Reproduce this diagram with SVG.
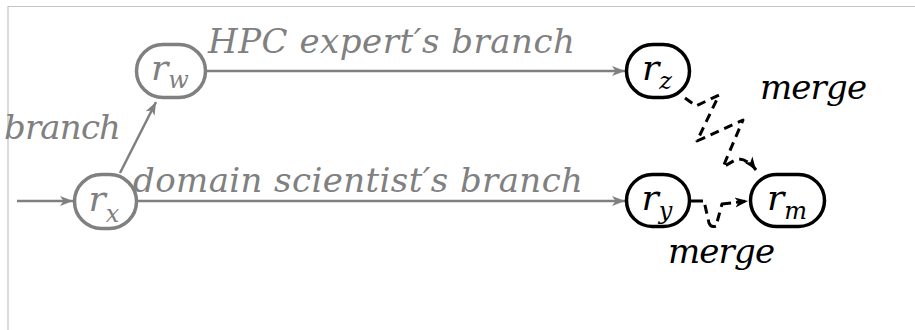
<svg xmlns="http://www.w3.org/2000/svg" width="915" height="330" viewBox="0 0 915 330">
<defs>
<style>
.frame{fill:none;stroke:#c4c4c4;stroke-width:1.2}
.ng rect{fill:#fff;stroke:#808080;stroke-width:3.5}
.nb rect{fill:#fff;stroke:#000;stroke-width:3.5}
text{font-family:'DejaVu Serif',serif;font-style:italic;font-size:34px}
.nl{font-size:36px}
.sub{font-size:24px}
.g{fill:#808080}
.k{fill:#000}
.eg{fill:none;stroke:#808080;stroke-width:2.5}
.eb{fill:none;stroke:#000;stroke-width:3;stroke-dasharray:9 6;stroke-linejoin:round}
</style>
<marker id="ag" markerWidth="16" markerHeight="14" refX="13" refY="7" orient="auto" markerUnits="userSpaceOnUse">
<path d="M0,2 L13,7 L0,12 L3.5,7 z" fill="#808080"/>
</marker>
<marker id="ab" markerWidth="16" markerHeight="14" refX="13" refY="7" orient="auto" markerUnits="userSpaceOnUse">
<path d="M0,2 L13,7 L0,12 L3.5,7 z" fill="#000"/>
</marker>
</defs>
<rect width="915" height="330" fill="#fff"/>
<path class="frame" d="M8,330 L8,6.5 L915,6.5"/>
<g id="connectors">
<path class="eg" d="M17,201 L73,201" marker-end="url(#ag)"/>
<path class="eg" d="M138,201 L625,201" marker-end="url(#ag)"/>
<path class="eg" d="M207,71 L625,71" marker-end="url(#ag)"/>
<path class="eg" d="M120,173 L156,102" marker-end="url(#ag)"/>
<path class="eb" d="M685,98 L696,106 L719,95 L697,141 L743,120 L723,167 L737,159 Q748,159 756,170" marker-end="url(#ab)"/>
<path class="eb" style="stroke-dasharray:12 5 9 6" d="M691,201 L704,201 L709,223 Q711,228 716,226 L722,204 L748,201" marker-end="url(#ab)"/>
</g>
<g id="node-rw" class="ng">
<rect x="136.5" y="44.5" width="69" height="53" rx="26.5"/>
<text class="nl g" x="170" y="80" text-anchor="middle">r<tspan class="sub" dy="8">w</tspan></text>
</g>
<g id="node-rx" class="ng">
<rect x="74.5" y="174.5" width="62" height="54" rx="27"/>
<text class="nl g" x="104" y="211" text-anchor="middle">r<tspan class="sub" dy="11">x</tspan></text>
</g>
<g id="node-rz" class="nb">
<rect x="626.5" y="44.5" width="63" height="53" rx="26.5"/>
<text class="nl k" x="657" y="80" text-anchor="middle">r<tspan class="sub" dy="9">z</tspan></text>
</g>
<g id="node-ry" class="nb">
<rect x="626.5" y="174.5" width="63" height="52" rx="26"/>
<text class="nl k" x="657" y="210" text-anchor="middle">r<tspan class="sub" dy="9">y</tspan></text>
</g>
<g id="node-rm" class="nb">
<rect x="750.5" y="174.5" width="74" height="52" rx="26"/>
<text class="nl k" x="787" y="210" text-anchor="middle">r<tspan class="sub" dy="9">m</tspan></text>
</g>
<g id="labels">
<text class="g" x="208" y="53" textLength="367" lengthAdjust="spacing">HPC expert′s branch</text>
<text class="g" x="133" y="192" textLength="450" lengthAdjust="spacing">domain scientist′s branch</text>
<text class="g" x="4" y="139" textLength="117" lengthAdjust="spacing">branch</text>
<text class="k" x="760" y="99" textLength="107" lengthAdjust="spacing">merge</text>
<text class="k" x="668" y="263" textLength="107" lengthAdjust="spacing">merge</text>
</g>
</svg>
